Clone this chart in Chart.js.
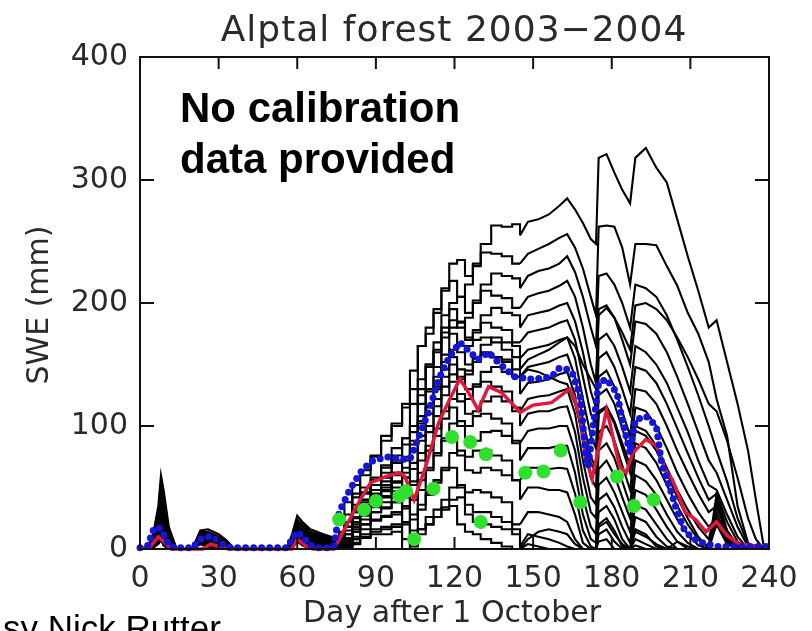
<!DOCTYPE html>
<html>
<head>
<meta charset="utf-8">
<script src="https://cdn.jsdelivr.net/npm/chart.js@4/dist/chart.umd.min.js"></script>
<style>
  html, body { margin: 0; padding: 0; background: #fff; overflow: hidden; }
  #wrap { position: relative; width: 812px; height: 631px; overflow: hidden; }
  .idl { position: absolute; white-space: nowrap; font-family: 'DejaVu Sans', sans-serif; color: #2a2a2a; }
  #title { left: 0; width: 908px; top: 11px; font-size: 36px; line-height: 36px; text-align: center; letter-spacing: 1px; }
  #xlab { left: 0; width: 904px; top: 597px; font-size: 30px; line-height: 30px; text-align: center; }
  #ylab { left: -62px; top: 290px; width: 200px; height: 30px; font-size: 30px; line-height: 30px; text-align: center; transform: rotate(-90deg); }
  #note { position: absolute; left: 180px; top: 82px; font-family: 'Liberation Sans', Arial, sans-serif; font-weight: bold; font-size: 42px; line-height: 51px; color: #000; }
  #credit { position: absolute; left: 3px; top: 610px; font-family: 'Liberation Sans', Arial, sans-serif; font-size: 35px; line-height: 35px; color: #000; white-space: nowrap; }
</style>
</head>
<body>
<div id="wrap">
  <canvas id="swe" width="812" height="631"></canvas>
  <div class="idl" id="title">Alptal forest 2003−2004</div>
  <div class="idl" id="xlab">Day after 1 October</div>
  <div class="idl" id="ylab">SWE (mm)</div>
  <div id="note">No calibration<br>data provided</div>
  <div id="credit">sy Nick Rutter</div>
</div>
<script>
// model runs, early season (autumn snowfalls)
var earlyDays = [0, 3, 5, 7, 8, 9, 11, 14, 20, 23, 26, 30, 33, 36, 45, 56, 58, 60, 62, 65, 70, 73];
var earlySwe = [
  [0,2,12,35,60,48,18,0, 0,15,16,12,7,0, 0,0,12,27,22,16,12,10],
  [0,2,10,30,52,40,15,0, 0,14,14,10,6,0, 0,0,10,24,20,14,11,9],
  [0,1,9,26,44,34,12,0, 0,13,13,9,5,0, 0,0,9,22,18,13,10,8],
  [0,1,8,22,38,30,10,0, 0,12,12,8,4,0, 0,0,8,20,16,12,9,7],
  [0,1,7,20,34,26,8,0, 0,11,11,7,3,0, 0,0,7,19,15,11,8,6],
  [0,1,6,18,30,22,6,0, 0,10,10,6,2,0, 0,0,7,18,14,10,7,5],
  [0,0,6,16,26,18,4,0, 0,10,9,5,2,0, 0,0,6,17,13,9,6,4],
  [0,0,5,14,22,15,3,0, 0,9,8,4,1,0, 0,0,6,16,12,8,5,3],
  [0,0,5,12,20,13,2,0, 0,9,7,3,1,0, 0,0,5,15,11,7,4,2],
  [0,0,4,11,18,11,1,0, 0,8,6,2,0,0, 0,0,5,14,10,6,3,2],
  [0,0,4,10,16,9,1,0, 0,8,5,1,0,0, 0,0,4,13,9,5,2,1],
  [0,0,3,9,14,8,0,0, 0,7,4,1,0,0, 0,0,4,12,8,4,1,1],
  [0,0,3,8,12,7,0,0, 0,7,3,0,0,0, 0,0,3,11,7,3,1,0],
  [0,0,3,7,11,6,0,0, 0,6,3,0,0,0, 0,0,3,10,6,2,0,0],
  [0,0,2,6,10,5,0,0, 0,6,2,0,0,0, 0,0,2,9,5,2,0,0],
  [0,0,2,5,9,4,0,0, 0,5,2,0,0,0, 0,0,2,8,4,1,0,0],
  [0,0,2,5,8,3,0,0, 0,5,1,0,0,0, 0,0,2,7,3,1,0,0],
  [0,0,1,4,7,3,0,0, 0,4,1,0,0,0, 0,0,1,6,3,0,0,0],
  [0,1,7,20,36,28,9,0, 0,11,12,8,4,0, 0,0,7,19,15,11,8,6],
  [0,0,5,15,24,16,4,0, 0,9,9,5,2,0, 0,0,6,16,12,8,6,4],
  [0,0,3,10,18,12,2,0, 0,8,7,3,0,0, 0,0,4,14,9,5,2,1]
];

// model runs, main winter season
var mainDays = [76, 78, 81, 84, 88, 92, 96, 100, 103, 106, 109, 112, 115, 118, 121, 124, 127, 130, 134, 138,
  142, 145, 148, 152, 156, 160, 163, 166, 169, 172, 174, 175, 178, 181, 184, 187, 189, 193, 197, 201,
  205, 209, 213, 217, 220, 224, 228, 232, 235, 238, 240];
var mainSwe = [
  [8,18,45,60,75,92,100,118,130,165, 180,192,210,232,235,222,230,248,263,262, 264,255,266,268,272,279,285,276,265,252, 248,318,321,306,292,281,318,326,310,298, 268,238,210,180,186,152,118,80,40,2,0],
  [6,14,38,52,64,76,88,102,115,145, 165,175,195,212,218,205,215,232,241,240, 238,232,240,244,248,253,256,245,228,205, 190,262,263,262,245,215,248,248,247,230, 214,192,175,152,122,92,35,5,0,0,0],
  [5,12,32,46,56,66,76,90,100,130, 150,160,180,200,205,192,200,215,224,222, 220,212,222,226,228,232,238,225,205,180, 165,222,224,215,200,180,215,212,205,190, 170,148,125,100,80,55,25,4,0,0,0],
  [4,10,28,42,50,58,68,82,90,118, 138,150,168,190,195,180,188,202,210,206, 204,196,205,208,210,214,218,205,180,150, 135,195,198,188,170,150,185,183,175,160, 140,118,95,72,62,40,18,2,0,0,0],
  [3,8,25,40,48,55,62,75,80,108, 128,140,158,180,185,170,176,190,196,192, 190,180,190,192,194,198,200,185,160,128, 115,170,175,165,148,128,165,160,150,135, 115,95,72,52,48,28,10,0,0,0,0],
  [2,8,22,36,45,52,58,70,72,100, 118,130,148,172,175,160,165,178,184,180, 178,168,176,178,180,184,186,170,140,110, 100,155,160,148,130,110,148,145,135,118, 98,78,58,40,45,22,6,0,0,0,0],
  [2,7,20,33,42,48,55,66,65,92, 110,122,140,162,165,150,155,166,172,168, 165,155,162,164,166,170,172,155,122,92, 82,140,145,132,112,92,130,128,118,100, 80,62,45,30,35,15,3,0,0,0,0],
  [1,6,18,30,40,45,52,62,58,85, 102,115,132,152,156,140,145,155,160,156, 152,140,148,150,152,156,158,140,105,75, 65,125,130,118,98,78,115,112,100,82, 62,45,30,18,25,8,0,0,0,0,0],
  [1,5,16,28,38,43,50,58,52,78, 95,108,125,142,146,130,134,144,148,144, 140,126,135,136,138,142,144,125,88,58, 50,110,115,102,82,62,100,96,84,66, 48,32,18,8,35,12,0,0,0,0,0],
  [1,5,15,26,36,40,47,54,46,70, 88,100,116,132,136,120,122,132,136,132, 128,112,122,124,125,128,130,110,72,42, 36,95,100,88,68,48,86,82,70,52, 35,20,8,2,30,8,0,0,0,0,0],
  [0,4,14,24,34,38,44,50,40,62, 80,92,106,122,126,110,112,120,124,120, 115,100,110,112,112,115,116,95,58,30, 25,80,86,74,55,36,72,68,56,40, 24,12,3,0,45,15,2,0,0,0,0],
  [0,3,12,22,32,36,42,47,35,55, 72,84,98,112,115,100,100,108,110,106, 102,86,96,98,98,100,100,80,42,18, 12,65,72,60,42,25,60,55,44,28, 14,5,0,0,25,6,0,0,0,0,0],
  [0,3,10,20,30,33,38,42,28,48, 64,76,88,102,104,88,88,95,96,92, 88,72,82,82,82,84,84,62,28,8, 5,52,58,46,30,14,48,44,32,18, 6,0,0,0,20,4,0,0,0,0,0],
  [0,2,9,18,27,30,34,38,22,40, 56,66,78,90,92,76,75,80,80,76, 72,56,66,66,65,66,65,45,15,2, 0,40,45,34,18,5,36,32,20,8, 0,0,0,0,0,0,0,0,0,0,0],
  [0,2,8,16,24,27,30,33,15,32, 46,56,66,78,80,64,62,66,64,60, 56,40,50,50,48,48,46,28,5,0, 0,30,35,24,8,0,26,22,10,2, 0,0,0,0,0,0,0,0,0,0,0],
  [0,1,6,14,20,23,26,28,8,24, 36,44,54,64,66,50,46,48,46,42, 38,20,30,30,28,26,22,8,0,0, 0,20,25,15,2,0,16,12,2,0, 0,0,0,0,0,0,0,0,0,0,0],
  [0,1,5,12,16,18,20,22,2,16, 26,32,40,50,52,36,30,30,26,22, 16,2,12,10,8,5,2,0,0,0, 0,12,16,6,0,0,8,4,0,0, 0,0,0,0,0,0,0,0,0,0,0],
  [0,0,3,8,10,12,12,14,0,8, 16,20,26,34,35,20,14,12,8,5, 2,0,4,2,0,0,0,0,0,0, 0,6,8,0,0,0,3,0,0,0, 0,0,0,0,0,0,0,0,0,0,0],
  [3,9,26,40,52,62,72,85,95,125, 148,162,176,186,184,172,170,172,168,162, 156,140,146,144,140,136,134,118,92,70, 62,112,116,104,86,68,96,92,80,62, 42,25,10,0,0,0,0,0,0,0,0],
  [2,6,18,30,38,44,50,60,62,88, 104,116,130,146,150,138,142,152,158,156, 154,146,154,158,162,168,172,165,150,138, 130,190,196,188,176,162,198,200,195,186, 172,156,138,118,112,88,58,25,8,0,0],
  [0,1,4,9,14,16,18,20,4,12, 20,26,32,40,42,28,22,20,18,16, 12,0,8,14,16,14,12,4,0,0, 0,18,22,12,4,0,14,10,4,0, 6,2,0,0,40,10,0,0,0,0,0]
];

// ensemble mean (red)
var meanDays = [0, 4, 7, 9, 12, 24, 27, 30, 34, 58, 60, 63, 66, 74, 78, 84, 88, 94, 99, 101, 104.6, 109, 114, 118,
  122, 124, 127, 129, 133, 138, 143, 145, 150, 157, 162.6, 164, 166, 168, 170, 172.5, 178, 179, 183, 185.5,
  188, 193, 197, 201, 203, 208, 212, 216, 220, 224, 228.6, 237];
var meanSwe = [0, 2, 10, 6, 0, 0, 4, 2, 0, 0, 8, 3, 0, 0, 16, 40, 54, 59, 62, 59, 40, 67, 103, 121,
  138, 132, 121, 113, 132, 127, 116, 111, 117, 119, 128, 130, 121, 105, 75, 57, 113, 105, 67, 62,
  78, 89, 84, 62, 57, 30, 24, 14, 22, 11, 4, 2];

// upper band (blue dots)
var upperDays = [0, 3, 5, 7, 9, 11, 13, 20, 23, 26, 29, 32, 35, 45, 56, 58, 60, 62, 65, 68, 72, 74,
  76, 80, 84, 88, 94, 99, 103, 106, 110, 114, 118, 122, 126, 129, 133, 137, 143, 150, 157, 160,
  163, 165, 168, 170, 171, 175, 178, 182, 184, 187, 189, 193, 197, 199, 202, 205, 208, 213, 220, 239];
var upperSwe = [1, 3, 15, 18, 12, 3, 1, 1, 8, 10, 8, 3, 1, 1, 1, 8, 14, 10, 3, 1, 1, 2,
  30, 48, 62, 71, 75, 73, 73, 89, 111, 138, 156, 168, 160, 154, 160, 151, 140, 138, 140, 147,
  146, 143, 124, 78, 67, 135, 138, 127, 105, 78, 105, 108, 100, 70, 51, 30, 14, 6, 2, 2];

// observations (green)
var obsDays = [76, 85.5, 90, 99, 101.5, 104.6, 112, 119, 126, 130, 132, 147, 154, 160.5, 168, 182, 188.5, 196];
var obsSwe = [24, 32, 39, 43, 47, 8, 49, 91, 87, 22, 77, 62, 63, 80, 38, 59, 35, 40];

var xTicks = [0, 30, 60, 90, 120, 150, 180, 210, 240];
var yTicks = [0, 100, 200, 300, 400];
var stepEnd = 145; // accumulation period drawn as a staircase

var toPoints = function (xs, ys) {
  return xs.map(function (d, k) { return { x: d, y: ys[k] }; });
};

var datasets = [];
datasets.push({
  label: 'observed',
  data: toPoints(obsDays, obsSwe),
  showLine: false,
  pointRadius: 7,
  pointBackgroundColor: '#2fe02f',
  pointBorderWidth: 0,
  order: 0
});
datasets.push({
  label: 'upper',
  data: toPoints(upperDays, upperSwe),
  borderColor: '#1515d8',
  borderWidth: 7,
  borderDash: [0, 8],
  borderCapStyle: 'round',
  pointRadius: 0,
  clip: 6,
  order: 1
});
datasets.push({
  label: 'mean',
  data: toPoints(meanDays, meanSwe),
  borderColor: '#e0183c',
  borderWidth: 3.5,
  pointRadius: 0,
  clip: 4,
  order: 2
});

var runLine = function (label, pts, stepped) {
  return {
    label: label,
    data: pts,
    borderColor: '#000',
    borderWidth: 2.1,
    pointRadius: 0,
    stepped: stepped,
    order: 3
  };
};

for (var i = 0; i < mainSwe.length; i++) {
  var main = toPoints(mainDays, mainSwe[i]);
  var early = toPoints(earlyDays, earlySwe[i]).concat([main[0]]);
  var accum = main.filter(function (p) { return p.x <= stepEnd; });
  var melt = main.filter(function (p) { return p.x >= stepEnd; });
  datasets.push(runLine('run ' + (i + 1), early, false));
  datasets.push(runLine('run ' + (i + 1), accum, i % 2 ? 'after' : 'before'));
  datasets.push(runLine('run ' + (i + 1), melt, false));
}

var frame = {
  id: 'frame',
  afterDatasetsDraw: function (chart) {
    var ctx = chart.ctx, a = chart.chartArea, x = chart.scales.x, y = chart.scales.y;
    ctx.save();
    ctx.strokeStyle = '#111';
    ctx.lineWidth = 2;
    ctx.strokeRect(a.left, a.top, a.right - a.left, a.bottom - a.top);
    ctx.beginPath();
    xTicks.forEach(function (t) {
      var px = x.getPixelForValue(t);
      ctx.moveTo(px, a.bottom); ctx.lineTo(px, a.bottom - 12);
      ctx.moveTo(px, a.top); ctx.lineTo(px, a.top + 12);
    });
    yTicks.forEach(function (t) {
      var py = y.getPixelForValue(t);
      ctx.moveTo(a.left, py); ctx.lineTo(a.left + 14, py);
      ctx.moveTo(a.right, py); ctx.lineTo(a.right - 14, py);
    });
    ctx.stroke();
    ctx.restore();
  }
};

var tickFont = { family: 'DejaVu Sans', size: 30 };

new Chart(document.getElementById('swe').getContext('2d'), {
  type: 'line',
  data: { datasets: datasets },
  options: {
    responsive: false,
    animation: false,
    layout: { padding: { top: 57, right: 43, bottom: 0, left: 0 } },
    plugins: { legend: { display: false }, tooltip: { enabled: false } },
    scales: {
      x: {
        type: 'linear', min: 0, max: 240,
        afterFit: function (s) { s.height = 82; },
        grid: { display: false, drawTicks: false },
        border: { display: false },
        afterBuildTicks: function (s) { s.ticks = xTicks.map(function (v) { return { value: v }; }); },
        ticks: { padding: 12, color: '#2a2a2a', font: tickFont, maxRotation: 0, autoSkip: false }
      },
      y: {
        type: 'linear', min: 0, max: 400,
        afterFit: function (s) { s.width = 140; },
        grid: { display: false, drawTicks: false },
        border: { display: false },
        afterBuildTicks: function (s) { s.ticks = yTicks.map(function (v) { return { value: v }; }); },
        ticks: { padding: 12, color: '#2a2a2a', font: tickFont }
      }
    }
  },
  plugins: [frame]
});
</script>
</body>
</html>
